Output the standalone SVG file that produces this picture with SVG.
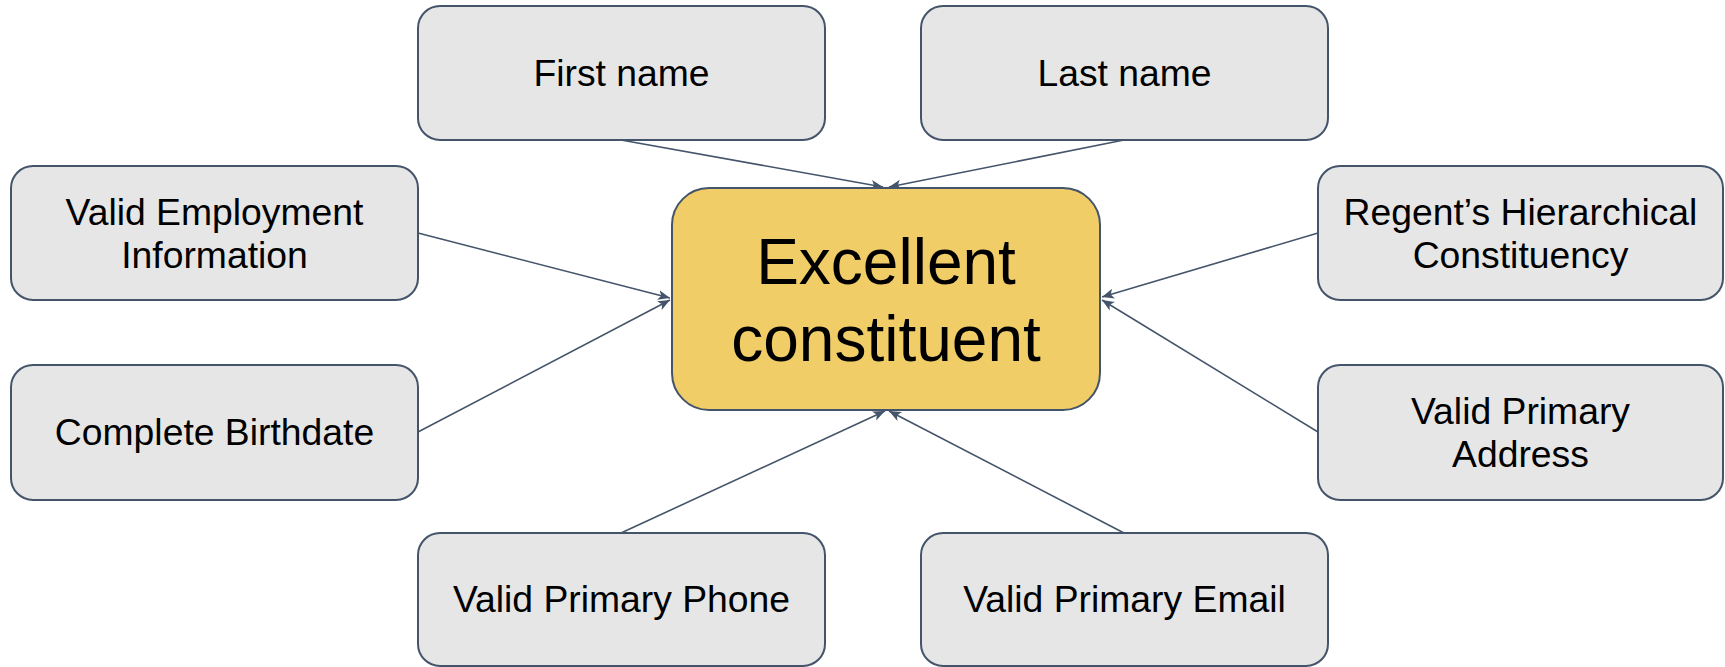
<svg xmlns="http://www.w3.org/2000/svg" width="1725" height="667" viewBox="0 0 1725 667">
<defs>
<style>
.node rect{fill:#e6e6e6;stroke:#44546a;stroke-width:2}
.node text{font-family:"Liberation Sans",Arial,sans-serif;font-size:37.3px;fill:#000;text-anchor:middle}
#center rect{fill:#f1cd68;stroke:#44546a;stroke-width:2}
#center text{font-family:"Liberation Sans",Arial,sans-serif;font-size:64px;fill:#000;text-anchor:middle}
.conn line{stroke:#44546a;stroke-width:1.6;fill:none;marker-end:url(#arr)}
</style>
<marker id="arr" markerUnits="userSpaceOnUse" markerWidth="14" markerHeight="12" refX="12" refY="5" orient="auto" viewBox="0 0 14 10">
<path d="M0,0 L12,5 L0,10 L3,5 z" fill="#44546a"/>
</marker>
</defs>
<rect width="1725" height="667" fill="#fff"/>
<g class="conn" id="connectors">
<line x1="621" y1="140" x2="883" y2="187"/>
<line x1="1124" y1="140" x2="889" y2="187"/>
<line x1="418" y1="233" x2="670" y2="298"/>
<line x1="418" y1="432" x2="670" y2="300"/>
<line x1="1318" y1="233" x2="1102" y2="297"/>
<line x1="1318" y1="432" x2="1102" y2="300"/>
<line x1="621" y1="533" x2="885" y2="411"/>
<line x1="1124" y1="533" x2="889" y2="411"/>
</g>
<g id="center">
<rect x="672" y="188" width="428" height="222" rx="37"/>
<text x="886" y="284">Excellent</text>
<text x="886" y="361">constituent</text>
</g>
<g class="node" id="first-name">
<rect x="418" y="6" width="407" height="134" rx="22"/>
<text x="621.5" y="86">First name</text>
</g>
<g class="node" id="last-name">
<rect x="921" y="6" width="407" height="134" rx="22"/>
<text x="1124.5" y="86">Last name</text>
</g>
<g class="node" id="employment">
<rect x="11" y="166" width="407" height="134" rx="22"/>
<text x="214.5" y="224.5">Valid Employment</text>
<text x="214.5" y="267.5">Information</text>
</g>
<g class="node" id="regent">
<rect x="1318" y="166" width="405" height="134" rx="22"/>
<text x="1520.5" y="224.5">Regent’s Hierarchical</text>
<text x="1520.5" y="267.5">Constituency</text>
</g>
<g class="node" id="birthdate">
<rect x="11" y="365" width="407" height="135" rx="22"/>
<text x="214.5" y="445">Complete Birthdate</text>
</g>
<g class="node" id="address">
<rect x="1318" y="365" width="405" height="135" rx="22"/>
<text x="1520.5" y="424">Valid Primary</text>
<text x="1520.5" y="467">Address</text>
</g>
<g class="node" id="phone">
<rect x="418" y="533" width="407" height="133" rx="22"/>
<text x="621.5" y="612">Valid Primary Phone</text>
</g>
<g class="node" id="email">
<rect x="921" y="533" width="407" height="133" rx="22"/>
<text x="1124.5" y="612">Valid Primary Email</text>
</g>
</svg>
